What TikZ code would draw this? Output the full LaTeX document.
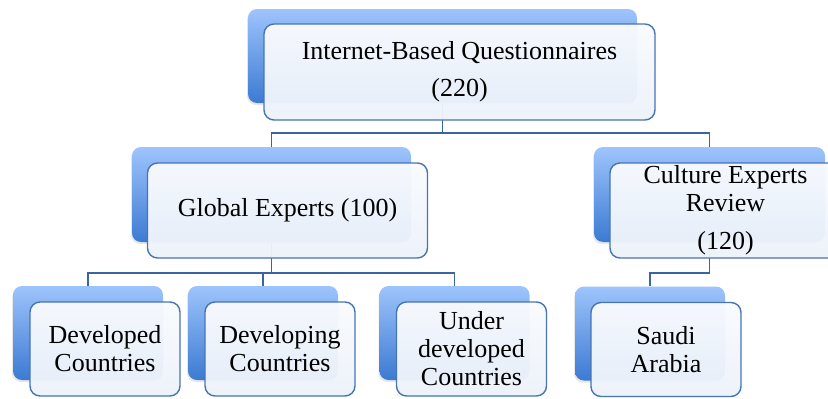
\documentclass[tikz,border=0pt]{standalone}
\usepackage{fontspec}
\setmainfont{Liberation Serif}
\usetikzlibrary{calc}
\usetikzlibrary{shadows}

\definecolor{boxtop}{RGB}{158,196,252}
\definecolor{boxbot}{RGB}{60,122,210}
\definecolor{paneltop}{RGB}{249,251,254}
\definecolor{panelbot}{RGB}{236,242,250}
\definecolor{rim}{RGB}{70,116,180}
\definecolor{wire}{RGB}{58,100,162}

\tikzset{
  backbox/.style={rounded corners=9pt, top color=boxtop, bottom color=boxbot,
    drop shadow={opacity=0.2, shadow xshift=-1pt, shadow yshift=-2pt}},
  frontbox/.style={rounded corners=10pt, draw=rim, line width=1.4pt,
    top color=paneltop, bottom color=panelbot, fill opacity=0.96, text opacity=1,
    inner sep=0pt, align=center, font=\fontsize{26}{28}\selectfont},
  link/.style={draw=wire, line width=1.6pt},
}

\begin{document}
\begin{tikzpicture}[x=1pt,y=-1pt]
  \useasboundingbox (0,0) rectangle (828,399);
  \clip (0,0) rectangle (828,399);
  % back plates
  \node[backbox, minimum width=389pt, minimum height=94pt] (topb) at (442.5,56) {};
  \node[backbox, minimum width=279pt, minimum height=95pt] (globalb) at (271.5,194.5) {};
  \node[backbox, minimum width=231pt, minimum height=95pt] (cultureb) at (709.5,194.5) {};
  \node[backbox, minimum width=150pt, minimum height=94pt] (developedb) at (88,333) {};
  \node[backbox, minimum width=150pt, minimum height=94pt] (developingb) at (263,333) {};
  \node[backbox, minimum width=150pt, minimum height=94pt] (underb) at (454.5,333) {};
  \node[backbox, minimum width=150pt, minimum height=94pt] (saudib) at (650,333.5) {};
  % connectors
  \coordinate (topj) at ([yshift=-30pt]topb.south);
  \draw[link] (topb.south) -- (topj) -| (globalb.north);
  \draw[link] (topj) -| (cultureb.north);
  \coordinate (globalj) at ([yshift=-31pt]globalb.south);
  \draw[link] (globalb.south) -- (globalj) -| (developedb.north);
  \draw[link] (globalj) -| (developingb.north);
  \draw[link] (globalj) -| (underb.north);
  \coordinate (culturej) at ([yshift=-31pt]cultureb.south);
  \draw[link] (cultureb.south) -- (culturej) -| (saudib.north);
  % front panels
  \node[frontbox, minimum width=391pt, minimum height=96pt] (top) at ([xshift=17pt,yshift=-16pt]topb.center) {Internet-Based Questionnaires\\[9pt](220)};
  \node[frontbox, minimum width=280pt, minimum height=95pt] (global) at ([xshift=16pt,yshift=-16pt]globalb.center) {Global Experts (100)};
  \node[frontbox, minimum width=231pt, minimum height=95pt] (culture) at ([xshift=16pt,yshift=-16pt]cultureb.center) {Culture Experts\\Review\\[10pt](120)};
  \node[frontbox, minimum width=150pt, minimum height=94pt] (developed) at ([xshift=17pt,yshift=-16pt]developedb.center) {Developed\\Countries};
  \node[frontbox, minimum width=150pt, minimum height=94pt] (developing) at ([xshift=17pt,yshift=-16pt]developingb.center) {Developing\\Countries};
  \node[frontbox, minimum width=150pt, minimum height=94pt] (under) at ([xshift=17pt,yshift=-16pt]underb.center) {Under\\developed\\Countries};
  \node[frontbox, minimum width=150pt, minimum height=94pt] (saudi) at ([xshift=16pt,yshift=-16pt]saudib.center) {Saudi\\Arabia};
\end{tikzpicture}
\end{document}
